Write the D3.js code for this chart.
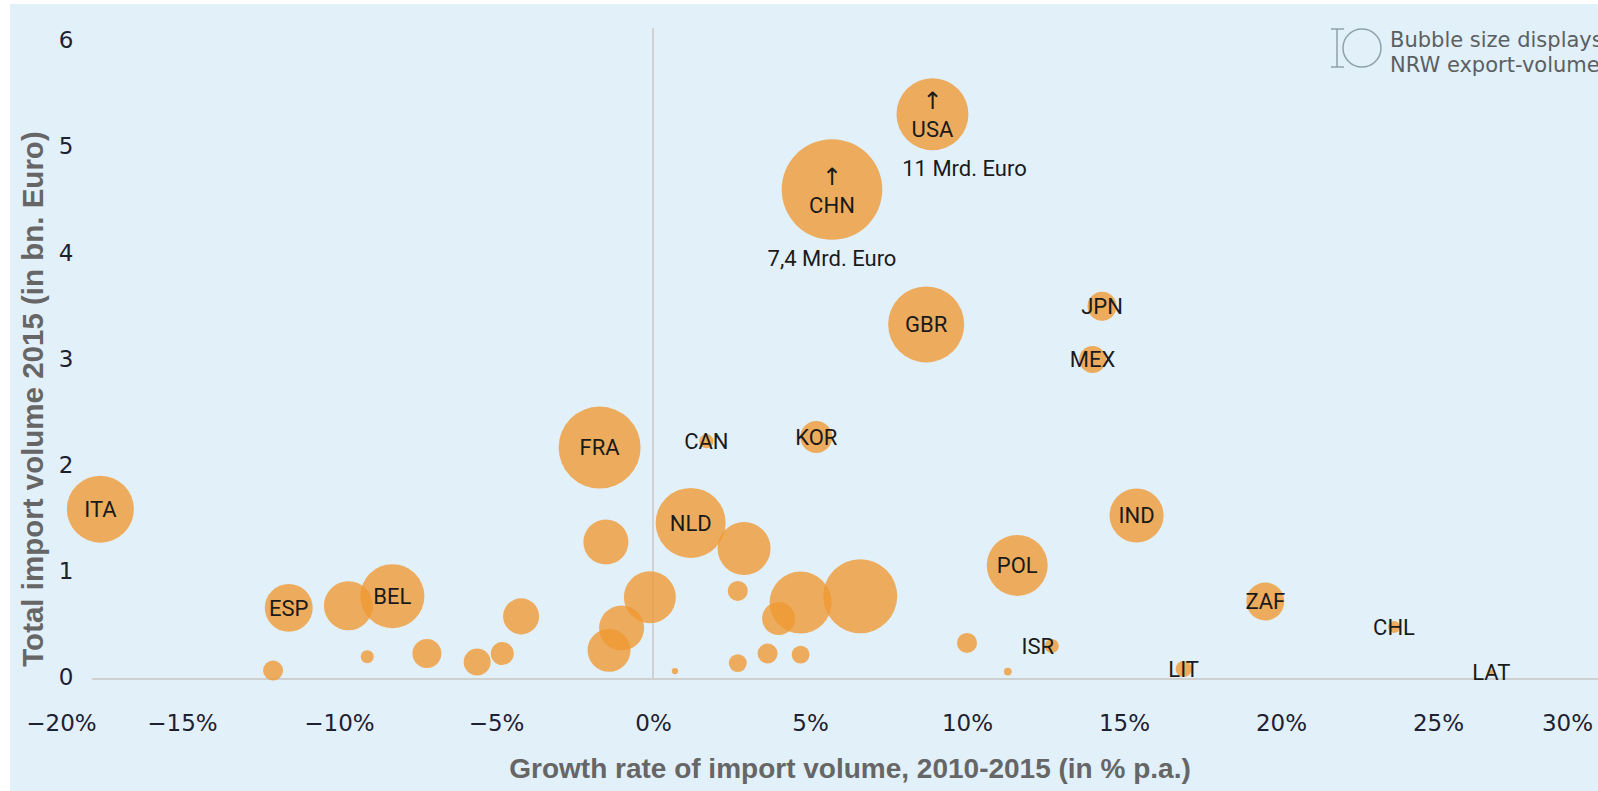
<!DOCTYPE html>
<html lang="en">
<head>
<meta charset="utf-8">
<script src="https://d3js.org/d3.v7.min.js"></script>
<style type="text/css">
body {
	margin: 0;
	background-color: #ffffff;
}
.tick text {
	font-family: "DejaVu Sans", sans-serif;
	font-size: 23px;
	fill: #1e2130;
}
.country {
	font-family: Roboto, "Liberation Sans", sans-serif;
	font-size: 22px;
	fill: #1a1a1a;
	text-anchor: middle;
}
.arrow {
	font-family: "DejaVu Sans", sans-serif;
	font-size: 24px;
	fill: #1a1a1a;
	text-anchor: middle;
}
.title {
	font-family: "Liberation Sans", Arial, sans-serif;
	font-weight: bold;
	fill: #666666;
	text-anchor: middle;
}
</style>
</head>
<body>
<div id="chart"></div>
<script type="text/javascript">

// country codes ('' = bubble without label)
var codes   = ["ITA", "ESP", "", "BEL", "", "", "", "", "", "",
               "FRA", "", "", "", "", "", "CAN", "KOR", "NLD", "",
               "", "", "", "", "", "", "", "POL", "", "",
               "GBR", "JPN", "MEX", "IND", "ZAF", "CHL", "ISR", "LIT", "LAT", "USA", "CHN"];
// growth rate of import volume 2010-2015 (% p.a.)
var growth  = [-17.6, -11.6, -9.7, -8.3, -9.1, -7.2, -5.6, -4.8, -4.2, -12.1,
               -1.7, -1.5, -0.1, -1.0, -1.4, 0.7, 1.7, 5.2, 1.2, 2.9,
               2.7, 4.7, 6.6, 4.0, 3.65, 4.7, 2.7, 11.6, 10.0, 11.3,
               8.7, 14.3, 14.0, 15.4, 19.5, 23.6, 12.7, 16.9, 26.7, 8.9, 5.7];
// total import volume 2015 (bn. Euro, USA and CHN capped)
var imports = [1.60, 0.67, 0.69, 0.78, 0.21, 0.24, 0.16, 0.24, 0.59, 0.08,
               2.18, 1.29, 0.77, 0.48, 0.27, 0.075, 2.24, 2.28, 1.47, 1.23,
               0.83, 0.72, 0.78, 0.57, 0.24, 0.23, 0.15, 1.07, 0.34, 0.07,
               3.34, 3.51, 3.01, 1.54, 0.73, 0.49, 0.31, 0.094, 0.066, 5.32, 4.61];
// NRW export volume (bubble size)
var exports = [4.49, 2.30, 2.40, 4.10, 0.17, 0.84, 0.73, 0.53, 1.30, 0.40,
               6.72, 2.03, 2.70, 2.03, 1.85, 0.04, 0.20, 1.02, 4.90, 2.81,
               0.40, 3.84, 5.48, 1.09, 0.40, 0.32, 0.32, 3.72, 0.40, 0.06,
               5.78, 0.84, 0.73, 2.92, 1.44, 0.14, 0.20, 0.26, 0.02, 5.18, 10.12];

var cappedCodes = ["USA", "CHN"];
var cappedNotes = ["11 Mrd. Euro", "7,4 Mrd. Euro"];

var xTicks = [-20, -15, -10, -5, 0, 5, 10, 15, 20, 25, 30];
var yTicks = [0, 1, 2, 3, 4, 5, 6];

var width = 1598, height = 791;

var data = codes.map(function(c, i) {
	return {code: c, gx: growth[i], iy: imports[i], ev: exports[i]};
});

var x = d3.scaleLinear().domain([-20, 30]).range([25, 1595]);
var y = d3.scaleLinear().domain([0, 6]).range([679, 42]);
var r = d3.scaleSqrt().domain([0, d3.max(exports)]).range([0, 50.3]);

var svg = d3.select("#chart")
	.append("svg")
	.attr("width", width)
	.attr("height", height)
	.style("display", "block");

// light blue panel
svg.append("rect")
	.attr("x", 10).attr("y", 4)
	.attr("width", width - 10).attr("height", height - 4)
	.attr("fill", "#e2f0fa");

// reference lines
svg.append("line")
	.attr("x1", x(0)).attr("x2", x(0))
	.attr("y1", 28).attr("y2", y(0))
	.attr("stroke", "#c9c9c9").attr("stroke-width", 1.5);
svg.append("line")
	.attr("x1", 92).attr("x2", width)
	.attr("y1", y(0)).attr("y2", y(0))
	.attr("stroke", "#cfd0d0").attr("stroke-width", 2);

// axes
var xAxis = svg.append("g")
	.attr("transform", "translate(0," + y(0) + ")")
	.call(d3.axisBottom(x).tickValues(xTicks).tickSize(0)
		.tickFormat(function(d) { return d3.format("d")(d) + "%"; }));
xAxis.select(".domain").remove();
xAxis.selectAll("text")
	.attr("y", 52).attr("dy", null)
	.attr("x", function(d) {
		if (d === xTicks[0]) return 36;
		if (d === xTicks[xTicks.length - 1]) return -28;
		return 0;
	});

var yAxis = svg.append("g")
	.attr("transform", "translate(66,0)")
	.call(d3.axisLeft(y).tickValues(yTicks).tickSize(0).tickFormat(d3.format("d")));
yAxis.select(".domain").remove();
yAxis.selectAll("text")
	.attr("x", 0).attr("dy", "0.25em")
	.attr("text-anchor", "middle");

// bubbles
svg.append("g")
	.selectAll("circle")
	.data(data)
	.enter()
	.append("circle")
	.attr("cx", function(d) { return x(d.gx); })
	.attr("cy", function(d) { return y(d.iy); })
	.attr("r", function(d) { return r(d.ev); })
	.attr("fill", "#ef9931")
	.attr("fill-opacity", 0.78);

// labels
var labelShift = {ISR: -14};
var labels = svg.append("g")
	.selectAll("g")
	.data(data.filter(function(d) { return d.code !== ""; }))
	.enter()
	.append("g")
	.attr("transform", function(d) {
		return "translate(" + (x(d.gx) + (labelShift[d.code] || 0)) + "," + y(d.iy) + ")";
	});

labels.append("text")
	.attr("class", "country")
	.attr("dy", function(d) { return cappedCodes.indexOf(d.code) >= 0 ? "1.05em" : "0.36em"; })
	.text(function(d) { return d.code; });

var capped = labels.filter(function(d) { return cappedCodes.indexOf(d.code) >= 0; });

capped.append("text")
	.attr("class", "arrow")
	.attr("dy", "-0.2em")
	.text("\u2191");

capped.append("text")
	.attr("class", "country")
	.attr("x", function(d) { return d.code === "USA" ? 32 : 0; })
	.attr("y", function(d) { return r(d.ev) + 18; })
	.attr("dy", "0.36em")
	.text(function(d) { return cappedNotes[cappedCodes.indexOf(d.code)]; });

// axis titles
svg.append("text")
	.attr("class", "title")
	.attr("x", 850).attr("y", 778)
	.style("font-size", "28px")
	.text("Growth rate of import volume, 2010-2015 (in % p.a.)");

svg.append("text")
	.attr("class", "title")
	.attr("transform", "translate(43,399) rotate(-90)")
	.style("font-size", "29.5px")
	.text("Total import volume 2015 (in bn. Euro)");

// bubble size legend
var key = svg.append("g").attr("stroke", "#8ea2a8").attr("stroke-width", 1.5).attr("fill", "none");
key.append("line").attr("x1", 1337).attr("x2", 1337).attr("y1", 29).attr("y2", 67);
key.append("line").attr("x1", 1331).attr("x2", 1344).attr("y1", 29).attr("y2", 29);
key.append("line").attr("x1", 1331).attr("x2", 1344).attr("y1", 67).attr("y2", 67);
key.append("circle").attr("cx", 1362).attr("cy", 48).attr("r", 19);

var keyText = svg.append("text")
	.style("font-family", "'DejaVu Sans', sans-serif")
	.style("font-size", "21px")
	.attr("fill", "#5b5f62");
keyText.append("tspan").attr("x", 1390).attr("y", 47).text("Bubble size displays");
keyText.append("tspan").attr("x", 1390).attr("y", 72).text("NRW export-volume");

</script>
</body>
</html>
